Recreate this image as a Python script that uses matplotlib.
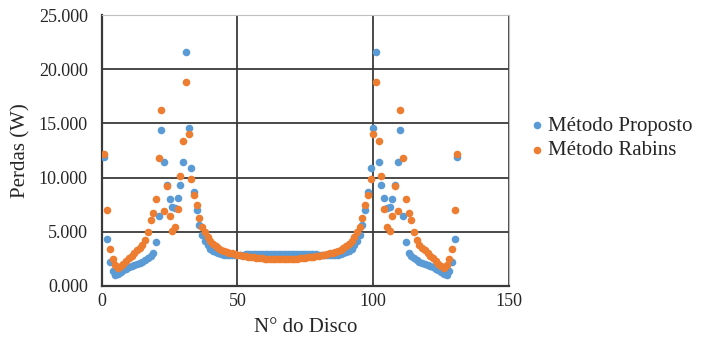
import matplotlib
matplotlib.use("Agg")
import matplotlib.pyplot as plt

disc = list(range(1, 132))

proposto = [
    11930, 4335, 2200, 1350, 1050, 1150, 1300, 1450, 1600, 1720,
    1850, 1950, 2050, 2150, 2250, 2380, 2550, 2750, 3070, 4090,
    6430, 14360, 11470, 9320, 8000, 7300, 7150, 8120, 9320, 11470,
    21590, 14530, 10860, 8650, 7050, 5600, 4700, 4150, 3750, 3450,
    3250, 3120, 3020, 2950, 2900, 2870, 2860, 2860, 2870, 2880,
    2890, 2900, 2910, 2920, 2930, 2935, 2940, 2945, 2950, 2950,
    2955, 2955, 2960, 2960, 2960, 2960,
    2960, 2960, 2960, 2955, 2955, 2950, 2950, 2945, 2940, 2935,
    2930, 2920, 2910, 2900, 2890, 2880, 2870, 2860, 2860, 2870,
    2900, 2950, 3020, 3120, 3250, 3450, 3750, 4150, 4700, 5600,
    7050, 8650, 10860, 14530, 21590, 11470, 9320, 8120, 7150, 7300,
    8000, 9320, 11470, 14360, 6430, 4090, 3070, 2750, 2550, 2380,
    2250, 2150, 2050, 1950, 1850, 1720, 1600, 1450, 1300, 1150,
    1050, 1350, 2200, 4335, 11930,
]

rabins = [
    12180, 7010, 3450, 2480, 1950, 1650, 1800, 2050, 2300, 2550,
    2800, 3050, 3300, 3550, 3800, 4200, 4950, 6050, 6700, 8000,
    11850, 16260, 6950, 9250, 6460, 5050, 5400, 7070, 10180, 13350,
    18850, 14020, 9840, 8350, 7450, 6300, 5470, 4950, 4500, 4150,
    3880, 3650, 3480, 3350, 3240, 3150, 3070, 3000, 2940, 2880,
    2830, 2780, 2740, 2700, 2660, 2630, 2600, 2570, 2550, 2530,
    2510, 2500, 2490, 2480, 2475, 2470,
    2475, 2480, 2490, 2500, 2510, 2530, 2550, 2570, 2600, 2630,
    2660, 2700, 2740, 2780, 2830, 2880, 2940, 3000, 3070, 3150,
    3240, 3350, 3480, 3650, 3880, 4150, 4500, 4950, 5470, 6300,
    7450, 8350, 9840, 14020, 18850, 13350, 10180, 7070, 5400, 5050,
    6460, 9250, 6950, 16260, 11850, 8000, 6700, 6050, 4950, 4200,
    3800, 3550, 3300, 3050, 2800, 2550, 2300, 2050, 1800, 1650,
    1950, 2480, 3450, 7010, 12180,
]

y_ticks = [0, 5000, 10000, 15000, 20000, 25000]
y_labels = ["0.000", "5.000", "10.000", "15.000", "20.000", "25.000"]
x_ticks = [0, 50, 100, 150]

plt.rcParams['font.family'] = ['Liberation Serif', 'DejaVu Serif']

fig = plt.figure(figsize=(7.09, 3.39), dpi=100)
ax = fig.add_axes([101.7 / 709, 1 - 286 / 339, (509 - 101.7) / 709, (286 - 15) / 339])

blue = '#5B9BD5'
orange = '#ED7D31'
ax.scatter(disc, proposto, s=30, color=blue, label='Método Proposto', zorder=3, linewidths=0)
ax.scatter(disc, rabins, s=30, color=orange, label='Método Rabins', zorder=4, linewidths=0)

ax.set_xlim(0, 150)
ax.set_ylim(0, 25000)
ax.set_xticks(x_ticks)
ax.set_yticks(y_ticks)
ax.set_yticklabels(y_labels)
ax.tick_params(axis='both', length=0, labelsize=13, colors='#262626')
ax.tick_params(axis='y', pad=10)
ax.tick_params(axis='x', pad=5)
ax.grid(True, color='#3a3a3a', linewidth=1.3, zorder=1)
ax.set_axisbelow(True)
for side in ['left', 'bottom']:
    ax.spines[side].set_color('#3a3a3a')
    ax.spines[side].set_linewidth(1.6)
for side in ['top', 'right']:
    ax.spines[side].set_color('#bfbfbf')
    ax.spines[side].set_linewidth(0.8)

ax.set_xlabel('N° do Disco', fontsize=15, color='#262626', labelpad=6)
ax.set_ylabel('Perdas (W)', fontsize=15, color='#262626', labelpad=6)

leg = ax.legend(loc='upper left', bbox_to_anchor=(1.043, 0.627), frameon=False,
                fontsize=15, handletextpad=0.05, markerscale=1.0, labelspacing=0.25,
                handlelength=1.0, borderaxespad=0, borderpad=0)
for t in leg.get_texts():
    t.set_color('#262626')

fig.savefig('out.png', dpi=100)
